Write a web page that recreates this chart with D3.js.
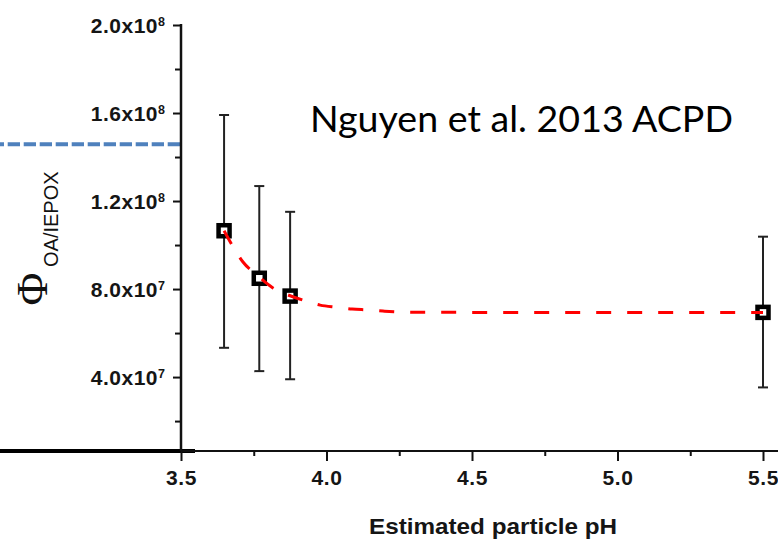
<!DOCTYPE html>
<html>
<head>
<meta charset="utf-8">
<script src="https://cdn.jsdelivr.net/npm/d3@7"></script>
<style>
  body { margin: 0; background: #fff; }
  svg { display: block; }
  .tick text { font-family: "Liberation Sans", Arial, sans-serif; font-weight: bold; fill: #151515; }
</style>
</head>
<body>
<svg id="chart" width="778" height="539"></svg>
<script>
// measured points (pH, Phi) with error bar ends
var phVals   = [3.648, 3.769, 3.875, 5.5];
var phiVals  = [1.065e8, 8.49e7, 7.68e7, 6.94e7];
var errHigh  = [1.591e8, 1.268e8, 1.151e8, 1.038e8];
var errLow   = [5.33e7, 4.27e7, 3.90e7, 3.53e7];

// fitted curve
var fitPh  = [3.648, 3.679, 3.713, 3.761, 3.816, 3.868, 3.926, 3.978, 4.036, 4.088, 4.143, 4.194, 4.297, 4.407, 5.5];
var fitPhi = [1.065e8, 9.92e7, 9.23e7, 8.64e7, 8.05e7, 7.73e7, 7.47e7, 7.27e7, 7.17e7, 7.09e7, 7.05e7, 7.0e7, 6.94e7, 6.94e7, 6.93e7];

var xMajor = [3.5, 4.0, 4.5, 5.0, 5.5];
var xMinor = [3.75, 4.25, 4.75, 5.25];
var yMajor = [4e7, 8e7, 1.2e8, 1.6e8, 2.0e8];
var yMinor = [2e7, 6e7, 1e8, 1.4e8, 1.8e8];
var yMin = 6.4e6, yMax = 2.0e8;
var refLevel = 1.458e8;   // blue dashed line from the slide

var svg = d3.select("#chart");

var x = d3.scaleLinear().domain([3.5, 5.5]).range([181, 763]);
var y = d3.scaleLinear().domain([yMin, yMax]).range([451, 25]);

// slide overlay lines
svg.append("line")
    .attr("x1", 0).attr("x2", x(3.5))
    .attr("y1", y(refLevel)).attr("y2", y(refLevel))
    .style("stroke", "#4f81bd").style("stroke-width", 4)
    .style("stroke-dasharray", "12.3,3.7").style("stroke-dashoffset", 8.3);

svg.append("line")
    .attr("x1", 0).attr("x2", 195)
    .attr("y1", y(yMin)).attr("y2", y(yMin))
    .style("stroke", "#000").style("stroke-width", 4);

// x axis
svg.append("line")
    .attr("x1", x(3.5)).attr("x2", 778)
    .attr("y1", y(yMin)).attr("y2", y(yMin))
    .style("stroke", "#111").style("stroke-width", 2);

var gx = svg.append("g")
    .attr("transform", "translate(0," + y(yMin) + ")")
    .call(d3.axisBottom(x).tickValues(xMajor).tickSize(10).tickPadding(9)
        .tickFormat(d3.format(".1f")));
gx.select(".domain").remove();
gx.selectAll(".tick line").style("stroke", "#111").style("stroke-width", 2);
gx.selectAll(".tick text").style("font-size", "21px").style("letter-spacing", "0.6px");

var gxm = svg.append("g")
    .attr("transform", "translate(0," + y(yMin) + ")")
    .call(d3.axisBottom(x).tickValues(xMinor).tickSize(5).tickFormat(""));
gxm.select(".domain").remove();
gxm.selectAll(".tick line").style("stroke", "#111").style("stroke-width", 2);

// y axis
svg.append("line")
    .attr("x1", x(3.5)).attr("x2", x(3.5))
    .attr("y1", y(yMax) - 1).attr("y2", y(yMin))
    .style("stroke", "#111").style("stroke-width", 2.5);

var gy = svg.append("g")
    .attr("transform", "translate(" + x(3.5) + ",0)")
    .call(d3.axisLeft(y).tickValues(yMajor).tickSize(8).tickPadding(8));
gy.select(".domain").remove();
gy.selectAll(".tick line").style("stroke", "#111").style("stroke-width", 2);
gy.selectAll(".tick text")
    .style("font-size", "21px").style("letter-spacing", "0.5px")
    .attr("dy", 7.5)
    .each(function(d) {
        var exp = Math.floor(Math.log10(d));
        var mant = (d / Math.pow(10, exp)).toFixed(1);
        var t = d3.select(this).text("");
        t.append("tspan").text(mant + "x10");
        t.append("tspan").attr("dy", -7.5).style("font-size", "12.5px").style("letter-spacing", "0px").text(exp);
    });

var gym = svg.append("g")
    .attr("transform", "translate(" + x(3.5) + ",0)")
    .call(d3.axisLeft(y).tickValues(yMinor).tickSize(6).tickFormat(""));
gym.select(".domain").remove();
gym.selectAll(".tick line").style("stroke", "#111").style("stroke-width", 2);

// axis titles
svg.append("text")
    .attr("x", 493).attr("y", 534)
    .attr("text-anchor", "middle")
    .attr("textLength", 248).attr("lengthAdjust", "spacingAndGlyphs")
    .style("font-family", "'Liberation Sans', Arial, sans-serif")
    .style("font-weight", "bold").style("font-size", "22px").style("fill", "#151515")
    .text("Estimated particle pH");

svg.append("text")
    .attr("transform", "translate(47,289) rotate(-90)")
    .attr("text-anchor", "middle")
    .style("font-family", "'Liberation Serif', 'Times New Roman', serif")
    .style("font-size", "45px").style("fill", "#111")
    .text("Φ");

svg.append("text")
    .attr("transform", "translate(58,267) rotate(-90)")
    .attr("text-anchor", "start")
    .style("font-family", "'Liberation Sans', Arial, sans-serif")
    .style("font-size", "20px").style("fill", "#111")
    .text("OA/IEPOX");

// citation
svg.append("text")
    .attr("x", 310).attr("y", 131.7)
    .attr("textLength", 423).attr("lengthAdjust", "spacingAndGlyphs")
    .style("font-family", "Lato, 'Open Sans', sans-serif")
    .style("font-size", "37px").style("fill", "#000")
    .text("Nguyen et al. 2013 ACPD");

// error bars
var pts = phVals.map(function(p, i) {
    return {ph: p, phi: phiVals[i], hi: errHigh[i], lo: errLow[i]};
});

var eb = svg.append("g").selectAll("g").data(pts).enter().append("g");
eb.append("line")
    .attr("x1", function(d) { return x(d.ph); })
    .attr("x2", function(d) { return x(d.ph); })
    .attr("y1", function(d) { return y(d.hi); })
    .attr("y2", function(d) { return y(d.lo); })
    .style("stroke", "#222").style("stroke-width", 2);
eb.selectAll(".cap").data(function(d) { return [d.hi, d.lo].map(function(v) { return {ph: d.ph, v: v}; }); })
    .enter().append("line")
    .attr("x1", function(d) { return x(d.ph) - 5; })
    .attr("x2", function(d) { return x(d.ph) + 5; })
    .attr("y1", function(d) { return y(d.v); })
    .attr("y2", function(d) { return y(d.v); })
    .style("stroke", "#222").style("stroke-width", 2);

// markers
svg.append("g").selectAll("rect").data(pts).enter().append("rect")
    .attr("x", function(d) { return x(d.ph) - 5.5; })
    .attr("y", function(d) { return y(d.phi) - 5.5; })
    .attr("width", 11).attr("height", 11)
    .style("fill", "#fff").style("stroke", "#000").style("stroke-width", 4.5);

// fit curve
var fit = fitPh.map(function(p, i) { return [p, fitPhi[i]]; });
var line = d3.line()
    .x(function(d) { return x(d[0]); })
    .y(function(d) { return y(d[1]); })
    .curve(d3.curveMonotoneX);

svg.append("path")
    .datum(fit)
    .attr("d", line)
    .style("fill", "none").style("stroke", "#ff0000").style("stroke-width", 3)
    .style("stroke-dasharray", "15,16");
</script>
</body>
</html>
